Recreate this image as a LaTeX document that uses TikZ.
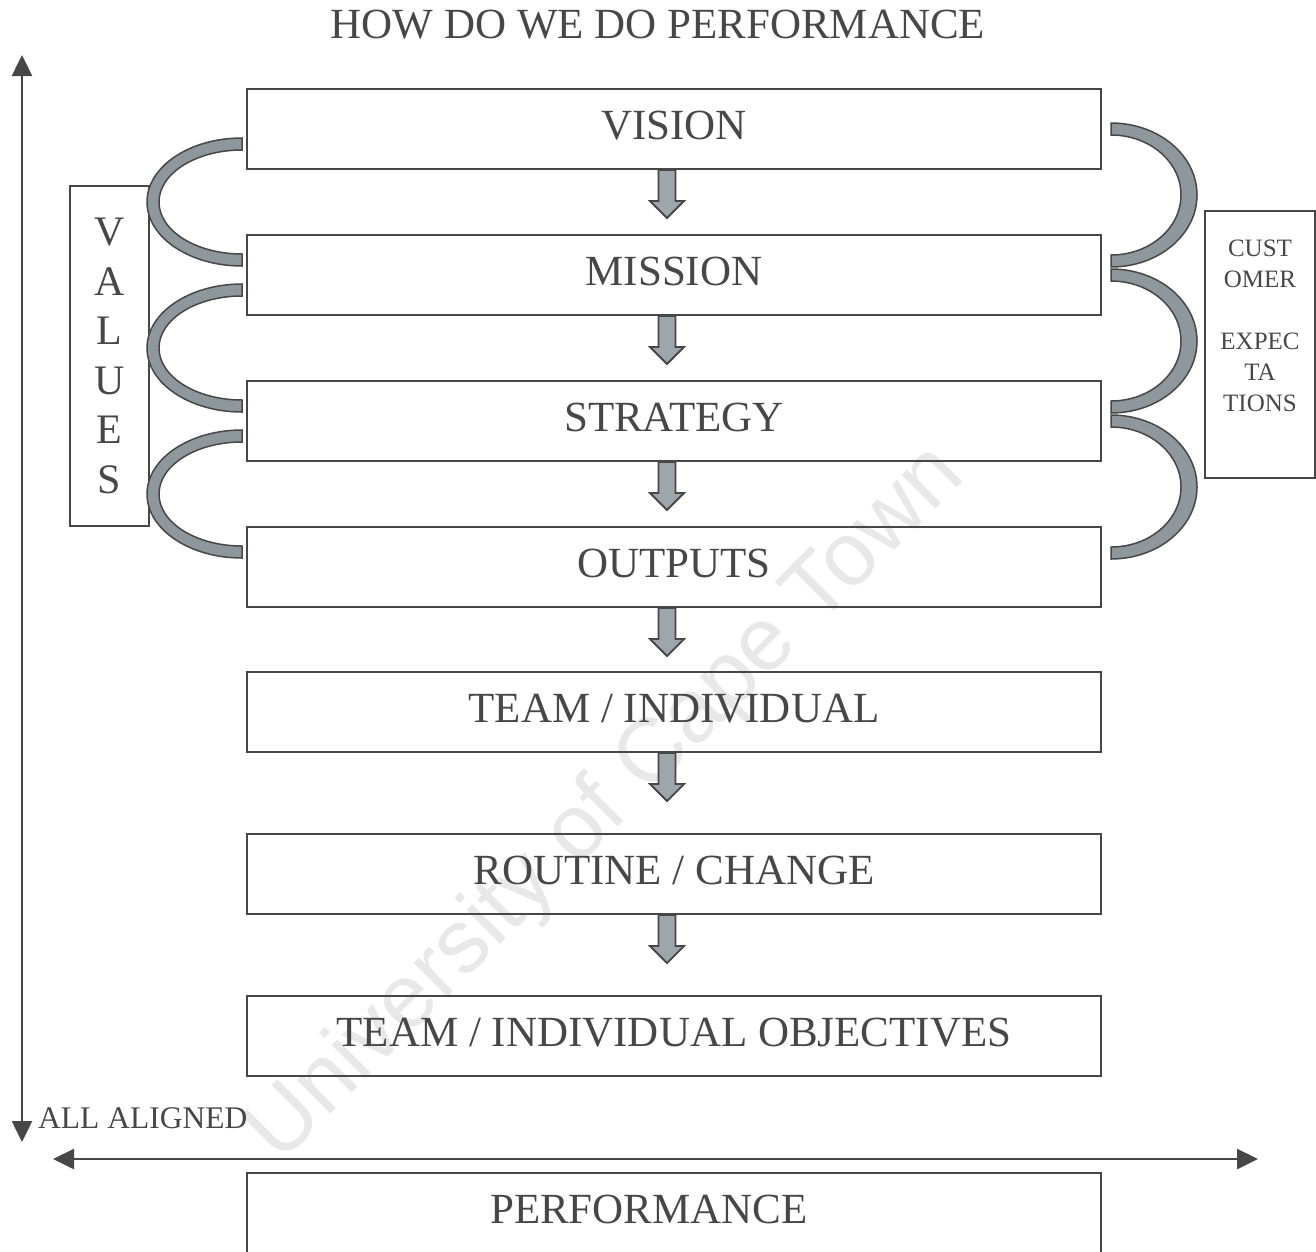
\documentclass[tikz,border=0pt]{standalone}
\usepackage{fontspec}
\setmainfont{Liberation Serif}
\newfontfamily\marksans{Liberation Sans}
\usetikzlibrary{arrows.meta,calc}

\definecolor{inkgray}{HTML}{474747}
\definecolor{loopgray}{HTML}{8E989C}
\definecolor{shaftgray}{HTML}{9DA6AB}

\newcommand{\flowarrow}[1]{%
  \draw[flowshape] ($(#1.south)+(-15.5,0)$) -- ++(0,-31) -- ++(-8.5,0) -- ++(17,-17)
    -- ++(17,17) -- ++(-8.5,0) -- ++(0,31) -- cycle;}
\newcommand{\valueloop}[2]{%
  \draw[loopband] ($(#1.west)!0.5!(#2.west)+(-4,64)$)
    arc[start angle=90,end angle=270,x radius=95,y radius=64] -- ++(0,12)
    arc[start angle=270,end angle=90,x radius=83,y radius=52] -- cycle;}
\newcommand{\customerloop}[2]{%
  \draw[loopband] ($(#1.east)!0.5!(#2.east)+(9,79)$)
    arc[start angle=90,end angle=-90,x radius=86,y radius=72] -- ++(0,12)
    arc[start angle=-90,end angle=90,x radius=70,y radius=60] -- cycle;}

\begin{document}
\begin{tikzpicture}[x=1pt,y=1pt,
    stage/.style={draw=inkgray, line width=2pt, minimum width=854pt, minimum height=80pt,
      inner sep=0pt, text=inkgray, font=\fontsize{43}{50}\selectfont,
      text height=29pt, text depth=8pt},
    sidebox/.style={draw=inkgray, line width=2pt, inner sep=0pt, text=inkgray},
    loopband/.style={draw=inkgray, line width=1.5pt, fill=loopgray},
    flowshape/.style={draw=inkgray, line width=1.8pt, fill=shaftgray, line join=miter},
    axis/.style={draw=inkgray, line width=2.5pt,
      arrows={Triangle[length=21pt,width=20pt]-Triangle[length=21pt,width=20pt]}}]

    \useasboundingbox (0,0) rectangle (1316,-1251);
    \clip (0,0) rectangle (1316,-1251);

    \node[rotate=45, text=black!9, font=\marksans\fontsize{90}{100}\selectfont] (mark) at (607,-805) {University of Cape Town};

    \node[text=inkgray, font=\fontsize{43}{50}\selectfont] (title) at (658,-25) {HOW DO WE DO PERFORMANCE};

    \node[stage] (vision) at (674,-129) {VISION};
    \node[stage] (mission) at (674,-275) {MISSION};
    \node[stage] (strategy) at (674,-421) {STRATEGY};
    \node[stage] (outputs) at (674,-567) {OUTPUTS};
    \node[stage] (team) at (674,-712) {TEAM / INDIVIDUAL};
    \node[stage] (routine) at (674,-874) {ROUTINE / CHANGE};
    \node[stage] (objectives) at (674,-1036) {TEAM / INDIVIDUAL OBJECTIVES};
    \node[stage] (performance) at (674,-1213) {\hspace*{-50pt}PERFORMANCE};

    \node[sidebox, minimum width=79pt, minimum height=340pt, align=center,
      font=\fontsize{42}{49.5}\selectfont] (values) at (109.5,-356) {V\\A\\L\\U\\E\\S};
    \node[sidebox, minimum width=110pt, minimum height=267pt] (customer) at (1260,-344.5) {};
    \node[text=inkgray, align=center, font=\fontsize{25}{31}\selectfont] (customertext)
      at (1260,-326) {CUST\\OMER\\[31pt]EXPEC\\TA\\TIONS};

    \valueloop{vision}{mission}
    \valueloop{mission}{strategy}
    \valueloop{strategy}{outputs}
    \customerloop{vision}{mission}
    \customerloop{mission}{strategy}
    \customerloop{strategy}{outputs}

    \flowarrow{vision}
    \flowarrow{mission}
    \flowarrow{strategy}
    \flowarrow{outputs}
    \flowarrow{team}
    \flowarrow{routine}

    \coordinate (aligntop) at (22,-55);
    \coordinate (alignbottom) at (22,-1142);
    \coordinate (spanleft) at (53,-1159);
    \coordinate (spanright) at (1258,-1159);
    \draw[axis] (aligntop) -- (alignbottom);
    \draw[axis] (spanleft) -- (spanright);
    \node[text=inkgray, anchor=base west, inner sep=0pt, font=\fontsize{31.5}{36}\selectfont]
      (aligned) at (38,-1128) {ALL ALIGNED};

\end{tikzpicture}
\end{document}
